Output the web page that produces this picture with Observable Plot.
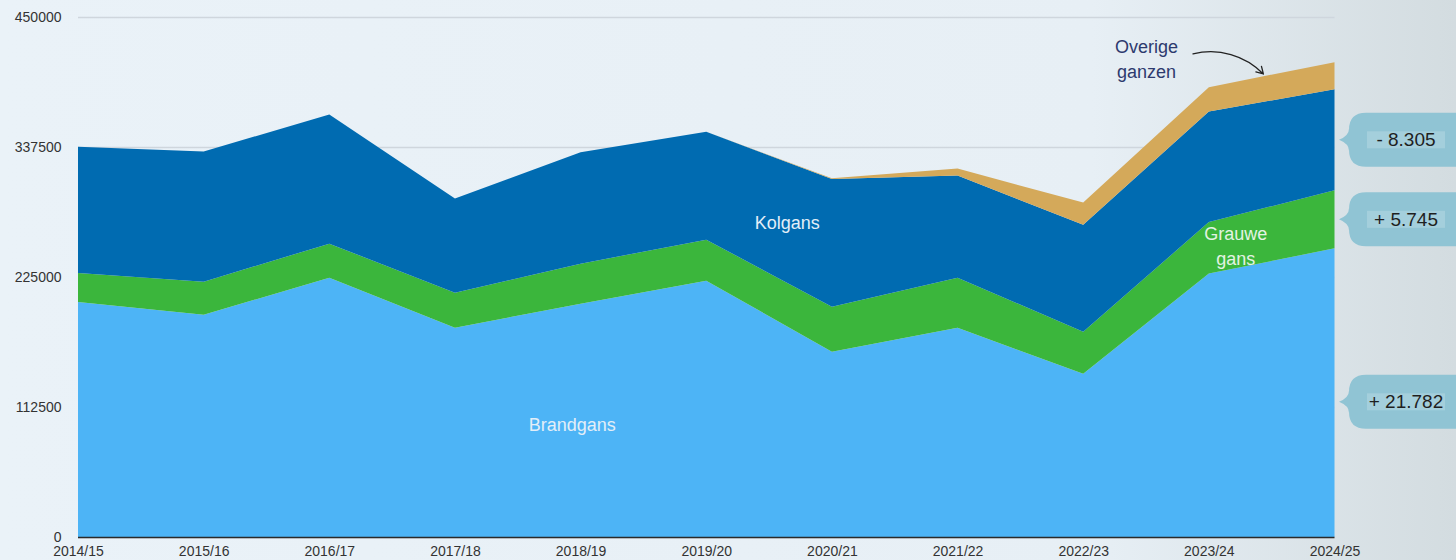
<!DOCTYPE html>
<html>
<head>
<meta charset="utf-8">
<script src="https://cdn.jsdelivr.net/npm/d3@7"></script>
<script src="https://cdn.jsdelivr.net/npm/@observablehq/plot@0.6"></script>
<style>
  html, body { margin: 0; padding: 0; }
  body {
    width: 1456px; height: 560px; overflow: hidden;
    background: linear-gradient(to right, #eaf2f8 0%, #e7eff5 75%, #d3dce0 100%);
    font-family: "Liberation Sans", Arial, Helvetica, sans-serif;
  }
</style>
</head>
<body>
<div id="chart"></div>
<script>
// ---- data ----
const seasons = ["2014/15","2015/16","2016/17","2017/18","2018/19","2019/20","2020/21","2021/22","2022/23","2023/24","2024/25"];
const species = ["Brandgans","Grauwe gans","Kolgans","Overige ganzen"];
const brandgans = [203340,192340,224400,181080,201870,221800,160280,181080,141220,228000,249782];
const grauwe    = [25130,28590,29455,30320,34660,35520,38990,43320,36390,44500,50245];
const kolgans   = [109170,112630,111765,81440,96430,93310,110640,88370,92710,95700,87395];
const overige   = [0,0,0,0,0,0,600,6070,19060,21070,23510];
const yTicks = [0,112500,225000,337500,450000];
const calloutLabels = ["- 8.305","+ 5.745","+ 21.782"];
const calloutValues = [343725, 274905, 117000];

const colors = ["#4db4f6","#3bb63c","#006bb1","#d4a95a"];
const seriesValues = [brandgans, grauwe, kolgans, overige];
const rows = species.flatMap((s, k) => seasons.map((season, i) => ({i, season, species: s, value: seriesValues[k][i]})));

const chart = Plot.plot({
  width: 1456, height: 560,
  marginLeft: 78, marginRight: 121.5, marginTop: 17, marginBottom: 23,
  style: {background: "transparent", fontFamily: "'Liberation Sans', Arial, sans-serif", fontSize: "14px", color: "#333", overflow: "visible"},
  x: {domain: [0, 10], ticks: d3.range(11), tickFormat: i => seasons[i], tickSize: 0, tickPadding: 9, label: null},
  y: {domain: [0, 450000], ticks: yTicks, tickFormat: d => String(d), tickSize: 0, tickPadding: 17, label: null},
  color: {domain: species, range: colors},
  marks: [
    Plot.ruleY(yTicks, {stroke: "#cfd6dd", strokeWidth: 1.5}),
    Plot.areaY(rows, {x: "i", y: "value", z: "species", fill: "species"}),
    Plot.ruleY([0], {stroke: "#2a2a2a", strokeWidth: 1.5}),
    Plot.text(["Kolgans"], {x: 5.64, y: 272050, text: d => d, fill: "#e3eef8", fontSize: 18}),
    Plot.text(["Brandgans"], {x: 3.93, y: 97040, text: d => d, fill: "#e3eef8", fontSize: 18}),
    Plot.text(["Grauwe\ngans"], {x: 9.21, y: 253420, text: d => d, fill: "#e3f3e3", fontSize: 18, lineHeight: 1.4}),
    Plot.text(["Overige\nganzen"], {x: 8.5, y: 415440, text: d => d, fill: "#2d3a6e", fontSize: 18, lineHeight: 1.4}),
    Plot.arrow([0], {x1: 8.87, y1: 418470, x2: 9.43, y2: 401140, bend: 30, stroke: "#222", strokeWidth: 1.3, headLength: 9})
  ]
});
document.getElementById("chart").appendChild(chart);

// ---- callouts on the right ----
const svg = d3.select(chart);
const yScale = chart.scale("y");
const g = svg.append("g");
calloutValues.forEach((v, k) => {
  const cy = yScale.apply(v);
  const L = 1349, R = 1480, tip = 1339, h = 27, r = 17;
  const path = `M${L + r},${cy - h} H${R} V${cy + h} H${L + r} Q${L},${cy + h} ${L},${cy + h - r} V${cy + 11} Q${L},${cy + 4} ${tip},${cy} Q${L},${cy - 4} ${L},${cy - 11} V${cy - h + r} Q${L},${cy - h} ${L + r},${cy - h} Z`;
  g.append("path").attr("d", path).attr("fill", "#90c4d4");
  g.append("rect").attr("x", 1367).attr("y", cy - 8.5).attr("width", 78).attr("height", 17).attr("fill", "#a4cfdc");
  g.append("text").attr("x", 1406).attr("y", cy).attr("dy", "0.35em").attr("text-anchor", "middle")
    .attr("font-size", 19).attr("fill", "#1f1f1f").text(calloutLabels[k]);
});
</script>
</body>
</html>
